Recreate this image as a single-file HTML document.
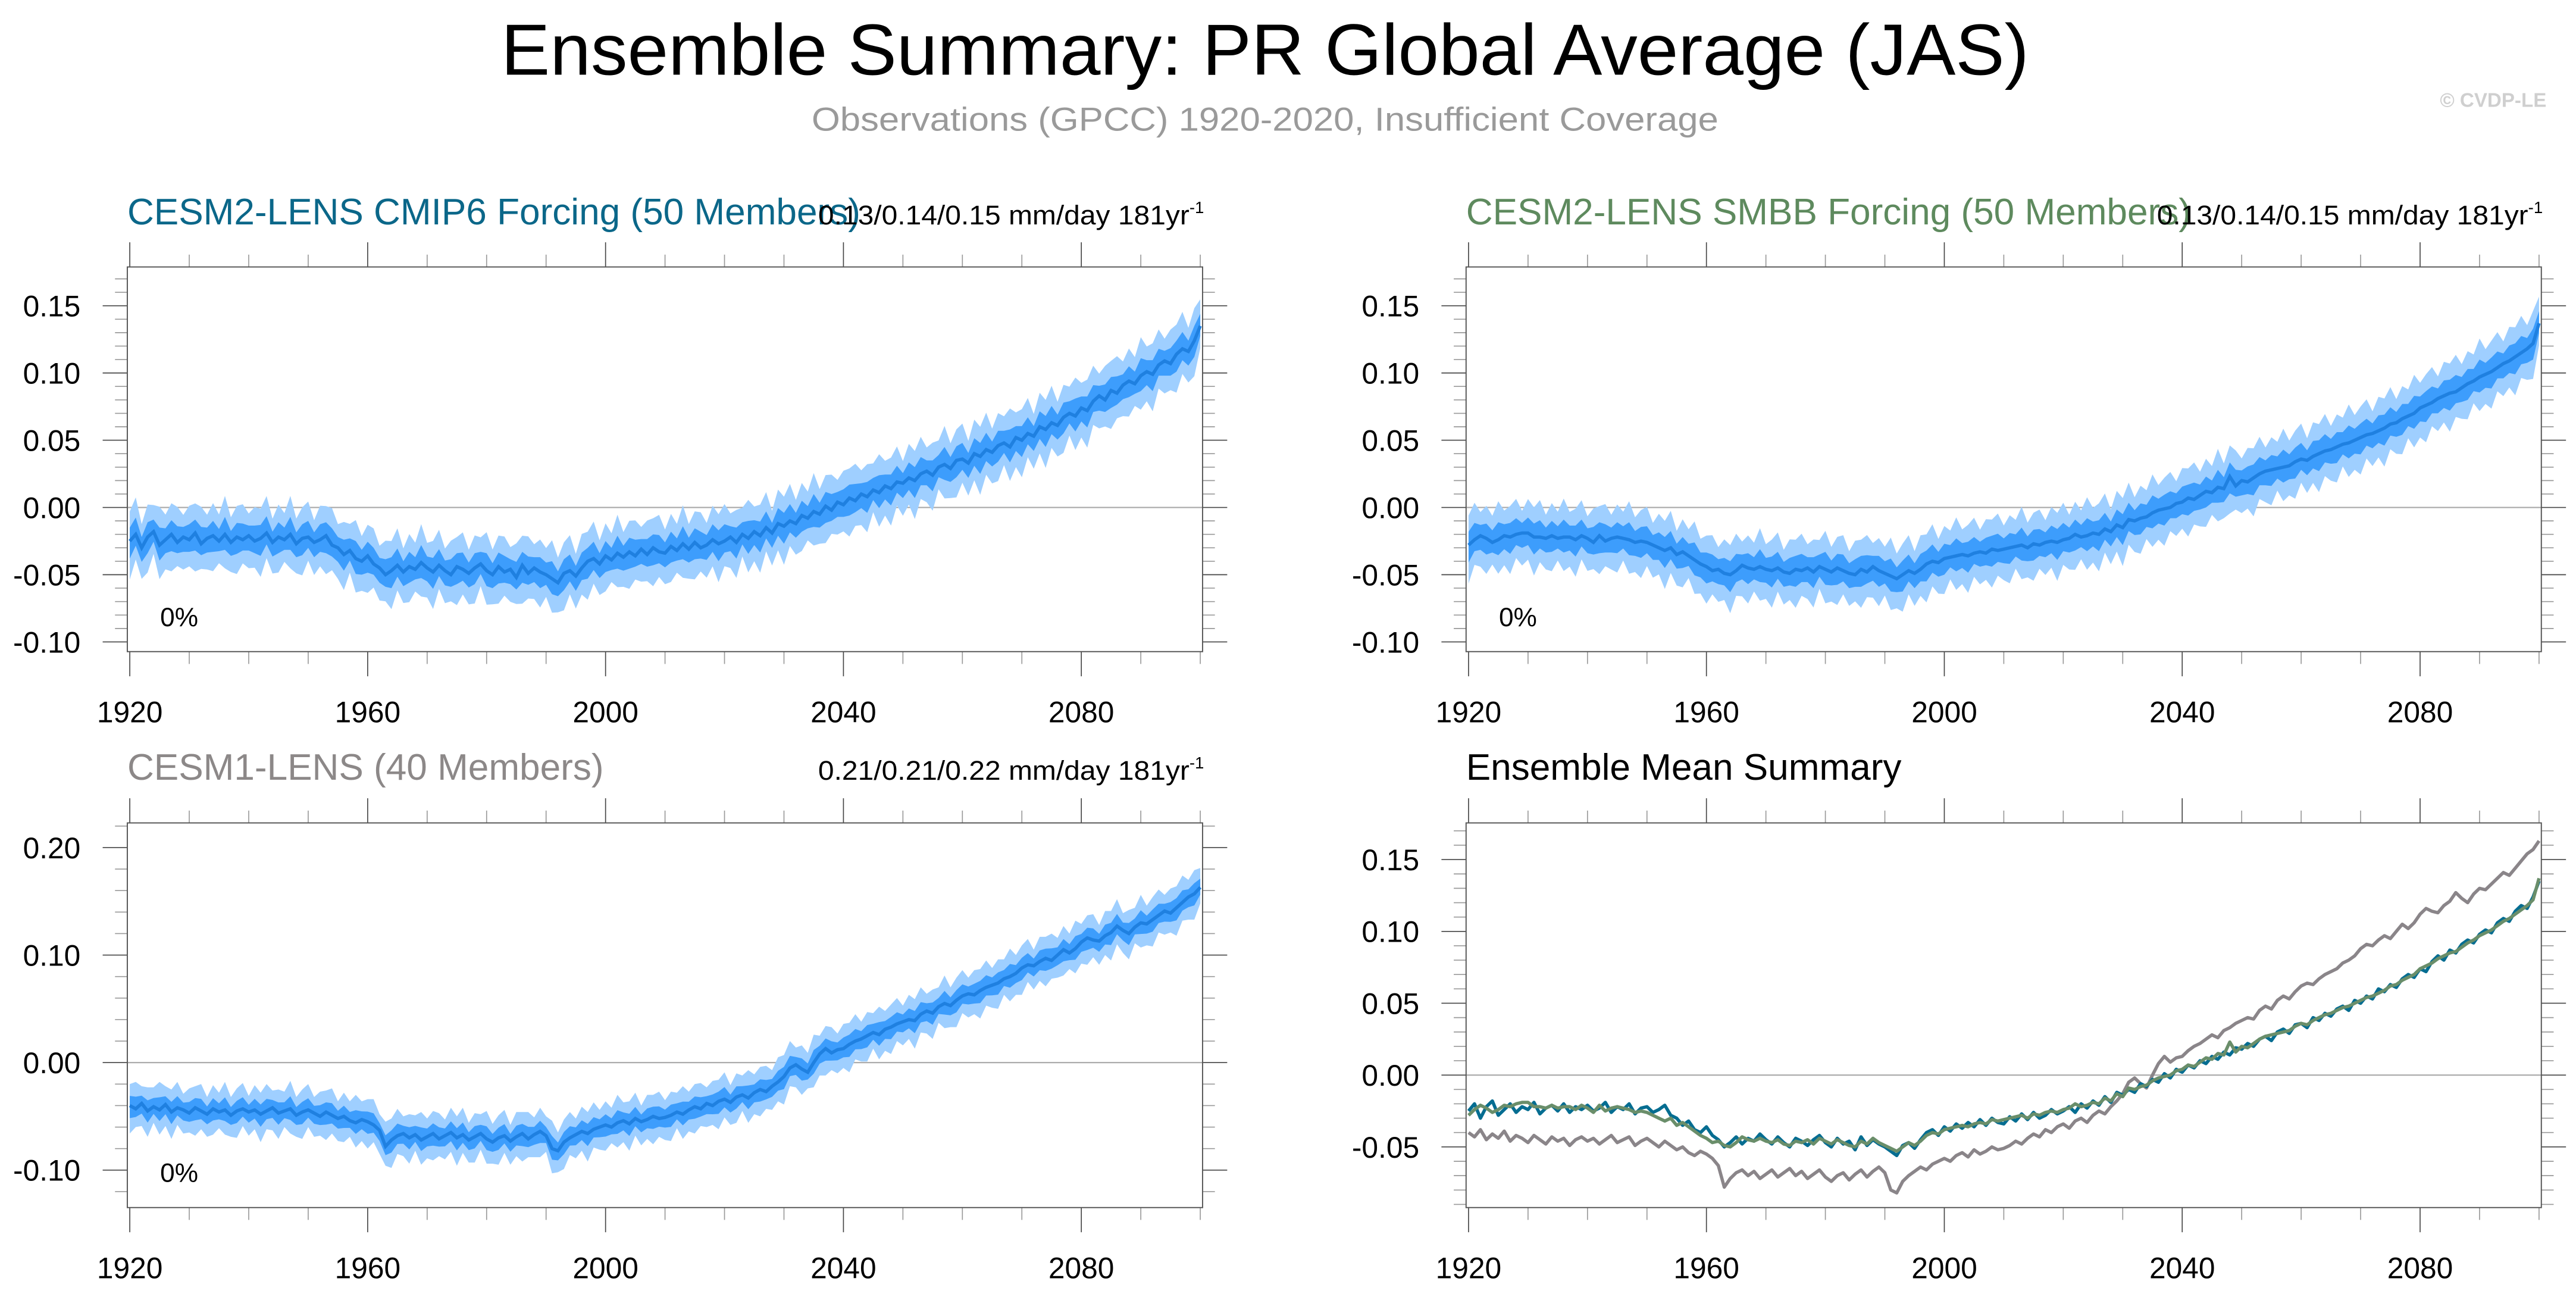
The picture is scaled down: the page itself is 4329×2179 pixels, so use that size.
<!DOCTYPE html>
<html><head><meta charset="utf-8">
<style>
html,body{margin:0;padding:0;background:#fff;}
svg{display:block;font-family:"Liberation Sans",sans-serif;}
</style></head>
<body>
<svg id="chart" xmlns="http://www.w3.org/2000/svg" width="4329" height="2179" viewBox="0 0 1568 789" preserveAspectRatio="none">
<rect x="0" y="0" width="1568" height="789" fill="#fff"/>
<text x="770" y="45.5" font-size="44" text-anchor="middle" fill="#000" textLength="930" lengthAdjust="spacingAndGlyphs">Ensemble Summary: PR Global Average (JAS)</text>
<text x="770" y="79.5" font-size="20" text-anchor="middle" fill="#9a9a9a" textLength="552" lengthAdjust="spacingAndGlyphs">Observations (GPCC) 1920-2020, Insufficient Coverage</text>
<text x="1550" y="65" font-size="12" font-weight="bold" text-anchor="end" fill="#cfcfcf">© CVDP-LE</text>
<g id="plots"></g>
</svg>
<script>
// ---- data ----
const years = [];
for (let y = 1920; y <= 2100; y++) years.push(y);

const cesm2Cmip6Mean = [
-0.025,-0.020,-0.030,-0.022,-0.018,-0.028,-0.024,-0.020,-0.026,-0.022,
-0.024,-0.019,-0.027,-0.023,-0.021,-0.025,-0.020,-0.026,-0.022,-0.024,
-0.021,-0.025,-0.023,-0.019,-0.026,-0.022,-0.024,-0.020,-0.027,-0.023,
-0.022,-0.026,-0.024,-0.021,-0.028,-0.030,-0.035,-0.032,-0.038,-0.040,
-0.036,-0.042,-0.045,-0.050,-0.047,-0.043,-0.048,-0.044,-0.046,-0.041,
-0.045,-0.048,-0.043,-0.047,-0.050,-0.044,-0.046,-0.049,-0.045,-0.042,
-0.047,-0.050,-0.044,-0.048,-0.046,-0.052,-0.043,-0.049,-0.045,-0.048,
-0.050,-0.053,-0.056,-0.049,-0.047,-0.051,-0.045,-0.040,-0.038,-0.042,
-0.036,-0.039,-0.034,-0.037,-0.033,-0.036,-0.031,-0.035,-0.030,-0.033,
-0.034,-0.029,-0.032,-0.027,-0.031,-0.026,-0.030,-0.028,-0.024,-0.027,
-0.025,-0.022,-0.026,-0.020,-0.023,-0.018,-0.021,-0.015,-0.019,-0.012,
-0.014,-0.010,-0.012,-0.006,-0.008,-0.003,-0.005,0.001,-0.002,0.004,
0.002,0.007,0.005,0.010,0.008,0.013,0.011,0.016,0.014,0.019,
0.018,0.022,0.020,0.025,0.027,0.024,0.030,0.032,0.029,0.035,
0.036,0.033,0.040,0.038,0.043,0.041,0.046,0.048,0.045,0.052,
0.050,0.055,0.053,0.060,0.058,0.063,0.061,0.067,0.070,0.068,
0.074,0.072,0.079,0.083,0.080,0.087,0.085,0.091,0.094,0.092,
0.098,0.101,0.099,0.106,0.109,0.107,0.114,0.118,0.116,0.124,
0.135];

const cesm2SmbbMean = [
-0.028,-0.024,-0.021,-0.023,-0.026,-0.024,-0.021,-0.022,-0.020,-0.019,
-0.019,-0.022,-0.022,-0.023,-0.021,-0.023,-0.022,-0.022,-0.024,-0.021,
-0.023,-0.026,-0.021,-0.025,-0.023,-0.022,-0.023,-0.024,-0.026,-0.025,
-0.026,-0.028,-0.030,-0.032,-0.030,-0.035,-0.033,-0.036,-0.039,-0.042,
-0.044,-0.047,-0.046,-0.049,-0.050,-0.047,-0.043,-0.045,-0.046,-0.044,
-0.046,-0.047,-0.045,-0.048,-0.049,-0.046,-0.047,-0.045,-0.048,-0.044,
-0.046,-0.048,-0.045,-0.047,-0.049,-0.050,-0.046,-0.048,-0.044,-0.047,
-0.049,-0.051,-0.053,-0.050,-0.047,-0.049,-0.046,-0.042,-0.040,-0.041,
-0.038,-0.037,-0.036,-0.035,-0.036,-0.034,-0.033,-0.034,-0.031,-0.032,
-0.031,-0.030,-0.029,-0.028,-0.030,-0.027,-0.028,-0.026,-0.025,-0.026,
-0.024,-0.023,-0.020,-0.022,-0.021,-0.019,-0.020,-0.016,-0.018,-0.013,
-0.015,-0.009,-0.010,-0.008,-0.007,-0.004,-0.002,-0.001,0.000,0.003,
0.004,0.007,0.006,0.009,0.012,0.011,0.015,0.014,0.023,0.016,
0.020,0.019,0.022,0.025,0.027,0.028,0.029,0.030,0.031,0.034,
0.036,0.035,0.038,0.040,0.042,0.043,0.045,0.047,0.048,0.050,
0.052,0.054,0.055,0.057,0.059,0.062,0.063,0.066,0.068,0.070,
0.074,0.076,0.078,0.081,0.083,0.085,0.086,0.089,0.092,0.094,
0.097,0.099,0.101,0.104,0.107,0.109,0.112,0.115,0.118,0.122,
0.137];

const cesm1Mean = [
-0.040,-0.043,-0.038,-0.045,-0.041,-0.044,-0.039,-0.046,-0.042,-0.044,
-0.047,-0.042,-0.045,-0.048,-0.043,-0.046,-0.044,-0.049,-0.045,-0.043,
-0.046,-0.044,-0.048,-0.045,-0.042,-0.047,-0.045,-0.043,-0.049,-0.046,
-0.044,-0.047,-0.050,-0.046,-0.049,-0.052,-0.050,-0.054,-0.056,-0.053,
-0.055,-0.058,-0.063,-0.078,-0.072,-0.068,-0.066,-0.070,-0.067,-0.072,
-0.069,-0.066,-0.071,-0.068,-0.065,-0.070,-0.067,-0.072,-0.069,-0.066,
-0.071,-0.074,-0.070,-0.068,-0.073,-0.069,-0.066,-0.071,-0.067,-0.064,
-0.068,-0.080,-0.082,-0.074,-0.070,-0.067,-0.064,-0.066,-0.062,-0.060,
-0.058,-0.060,-0.056,-0.054,-0.057,-0.052,-0.055,-0.053,-0.050,-0.052,
-0.051,-0.049,-0.046,-0.048,-0.044,-0.041,-0.043,-0.038,-0.040,-0.036,
-0.034,-0.037,-0.032,-0.030,-0.033,-0.028,-0.025,-0.027,-0.022,-0.018,
-0.013,-0.005,-0.002,-0.006,-0.009,0.000,0.008,0.013,0.009,0.012,
0.013,0.017,0.020,0.022,0.025,0.028,0.026,0.031,0.033,0.036,
0.038,0.040,0.039,0.045,0.048,0.046,0.052,0.055,0.053,0.058,
0.062,0.064,0.063,0.067,0.070,0.072,0.074,0.078,0.080,0.083,
0.088,0.091,0.090,0.094,0.097,0.095,0.100,0.105,0.102,0.106,
0.112,0.116,0.114,0.113,0.118,0.121,0.127,0.123,0.120,0.126,
0.130,0.129,0.133,0.137,0.141,0.139,0.144,0.149,0.154,0.157,
0.163];

const innerHalfWidth = [0.010, 0.010, 0.009];
const outerHalfWidth = [0.022, 0.022, 0.020];

const panel12Ticks = [-0.10, -0.05, 0.00, 0.05, 0.10, 0.15];
const panel12TickLabels = ["-0.10","-0.05","0.00","0.05","0.10","0.15"];
const panel3Ticks = [-0.10, 0.00, 0.10, 0.20];
const panel3TickLabels = ["-0.10","0.00","0.10","0.20"];
const panel4Ticks = [-0.05, 0.00, 0.05, 0.10, 0.15];
const panel4TickLabels = ["-0.05","0.00","0.05","0.10","0.15"];
const xTicks = [1920, 1960, 2000, 2040, 2080];
const xTickLabels = ["1920","1960","2000","2040","2080"];

// ---- drawing ----
const NS = "http://www.w3.org/2000/svg";
const root = document.getElementById("plots");
function mk(tag, attrs, parent) {
  const e = document.createElementNS(NS, tag);
  for (const k in attrs) e.setAttribute(k, attrs[k]);
  (parent || root).appendChild(e);
  return e;
}
const jitter = [1.0, 1.25, 0.8, 1.1, 0.9, 1.3, 0.85, 1.05, 1.2, 0.75, 1.15];

function makePanel(p) {
  const g = mk("g", {});
  
  
  const xs = yr => p.x0 + 1.5 + (yr - 1920) * p.pxPerYr;
  const ys = v => p.zeroY - v * p.pxPerUnit;
  const bottom = p.top + p.h, right = p.x0 + p.w;
  const zl = mk("line", {x1:p.x0, x2:right, y1:ys(0), y2:ys(0), stroke:"#a8a8a8", "stroke-width":0.8}, g);
  
  
  for (let yr = 1920; yr <= 2100; yr += 10) {
    const major = xTicks.includes(yr);
    const len = major ? 15 : 7.5;
    const col = major ? "#444" : "#999";
    mk("line", {x1:xs(yr), x2:xs(yr), y1:bottom, y2:bottom+len, stroke:col, "stroke-width":0.6}, g);
    mk("line", {x1:xs(yr), x2:xs(yr), y1:p.top, y2:p.top-len, stroke:col, "stroke-width":0.6}, g);
  }
  xTicks.forEach((yr, i) => {
    const t = mk("text", {x:xs(yr), y:bottom+43, "font-size":18, "text-anchor":"middle", fill:"#000"}, g);
    t.textContent = xTickLabels[i];
    
    
  });
  const vTop = (p.zeroY - p.top) / p.pxPerUnit, vBot = (p.zeroY - bottom) / p.pxPerUnit;
  const startI = Math.ceil(vBot / p.minorStep - 1e-6), endI = Math.floor(vTop / p.minorStep + 1e-6);
  for (let i = startI; i <= endI; i++) {
    const v = i * p.minorStep;
    const major = p.ticks.some(t => Math.abs(t - v) < 1e-6);
    const len = major ? 15 : 7.5;
    const col = major ? "#444" : "#999";
    mk("line", {x1:p.x0-len, x2:p.x0, y1:ys(v), y2:ys(v), stroke:col, "stroke-width":0.6}, g);
    mk("line", {x1:right, x2:right+len, y1:ys(v), y2:ys(v), stroke:col, "stroke-width":0.6}, g);
  }
  p.ticks.forEach((v, i) => {
    const t = mk("text", {x:p.x0-28.5, y:ys(v)+6.5, "font-size":18, "text-anchor":"end", fill:"#000"}, g);
    t.textContent = p.tickLabels[i];
    
    
  });
  if (p.band) {
    const m = p.band.mean, ih = p.band.inner, oh = p.band.outer;
    const poly = (h) => {
      let pts = years.map((yr,i)=>xs(yr).toFixed(2)+","+ys(m[i]+h*jitter[i%11]).toFixed(2));
      let ptsB = years.map((yr,i)=>xs(yr).toFixed(2)+","+ys(m[i]-h*jitter[(i+5)%11]).toFixed(2)).reverse();
      return pts.concat(ptsB).join(" ");
    };
    const ob = mk("polygon", {points:poly(oh), fill:"#9fcfff"}, g);
    
    
    const ib = mk("polygon", {points:poly(ih), fill:"#3d9dfc"}, g);
    
    
    const ml = mk("polyline", {points:years.map((yr,i)=>xs(yr).toFixed(2)+","+ys(m[i]).toFixed(2)).join(" "), fill:"none", stroke:"#1f80e0", "stroke-width":2}, g);
    
    
    const pc = mk("text", {x:p.x0+20, y:p.pctY, "font-size":16, fill:"#000"}, g);
    pc.textContent = "0%";
    
    
  }
  if (p.lines) {
    p.lines.forEach(L => {
      const pl = mk("polyline", {points:years.map((yr,i)=>xs(yr).toFixed(2)+","+ys(L.data[i]).toFixed(2)).join(" "), fill:"none", stroke:L.color, "stroke-width":2, "stroke-linejoin":"round"}, g);
      
      
    });
  }
  const fr = mk("rect", {x:p.x0, y:p.top, width:p.w, height:p.h, fill:"none", stroke:"#555", "stroke-width":0.7}, g);
  
  
  const tt = mk("text", {x:p.x0, y:p.titleY, "font-size":22.5, fill:p.titleColor}, g);
  tt.textContent = p.title;
  
  
  if (p.rightLabel) {
    const rt = mk("text", {x:right - 234, y:p.titleY, "font-size":16.5, fill:"#000"}, g);
    
    
    const s1 = mk("tspan", {textLength:226, lengthAdjust:"spacingAndGlyphs"}, rt);
    s1.textContent = p.rightLabel;
    const s2 = mk("tspan", {dy:-7, "font-size":10}, rt);
    s2.textContent = "-1";
  }
}

const common = {w:654.5, h:234, pxPerYr:3.62};
makePanel(Object.assign({}, common, {name:"panel-cesm2-cmip6", x0:77.5, top:162.4, zeroY:308.7, pxPerUnit:818, ticks:panel12Ticks, tickLabels:panel12TickLabels, minorStep:0.01, titleY:136.6, title:"CESM2-LENS CMIP6 Forcing (50 Members)", titleColor:"#0b6789", rightLabel:"0.13/0.14/0.15 mm/day 181yr", band:{mean:cesm2Cmip6Mean, inner:innerHalfWidth[0], outer:outerHalfWidth[0]}, pctY:381}));
makePanel(Object.assign({}, common, {name:"panel-cesm2-smbb", x0:892.4, top:162.4, zeroY:308.7, pxPerUnit:818, ticks:panel12Ticks, tickLabels:panel12TickLabels, minorStep:0.01, titleY:136.6, title:"CESM2-LENS SMBB Forcing (50 Members)", titleColor:"#5e8a5e", rightLabel:"0.13/0.14/0.15 mm/day 181yr", band:{mean:cesm2SmbbMean, inner:innerHalfWidth[1], outer:outerHalfWidth[1]}, pctY:381}));
makePanel(Object.assign({}, common, {name:"panel-cesm1", x0:77.5, top:500.6, zeroY:646.4, pxPerUnit:654, ticks:panel3Ticks, tickLabels:panel3TickLabels, minorStep:0.02, titleY:474.4, title:"CESM1-LENS (40 Members)", titleColor:"#8c8888", rightLabel:"0.21/0.21/0.22 mm/day 181yr", band:{mean:cesm1Mean, inner:innerHalfWidth[2], outer:outerHalfWidth[2]}, pctY:719}));
makePanel(Object.assign({}, common, {name:"panel-ensemble-mean-summary", x0:892.4, top:500.6, zeroY:654, pxPerUnit:874, ticks:panel4Ticks, tickLabels:panel4TickLabels, minorStep:0.01, titleY:474.4, title:"Ensemble Mean Summary", titleColor:"#000", lines:[
  {name:"cesm1-mean-line", data:cesm1Mean, color:"#8a8589"},
  {name:"cesm2-cmip6-mean-line", data:cesm2Cmip6Mean, color:"#056d91"},
  {name:"cesm2-smbb-mean-line", data:cesm2SmbbMean, color:"#6a8e6a"}
]}));
</script>
</body></html>
